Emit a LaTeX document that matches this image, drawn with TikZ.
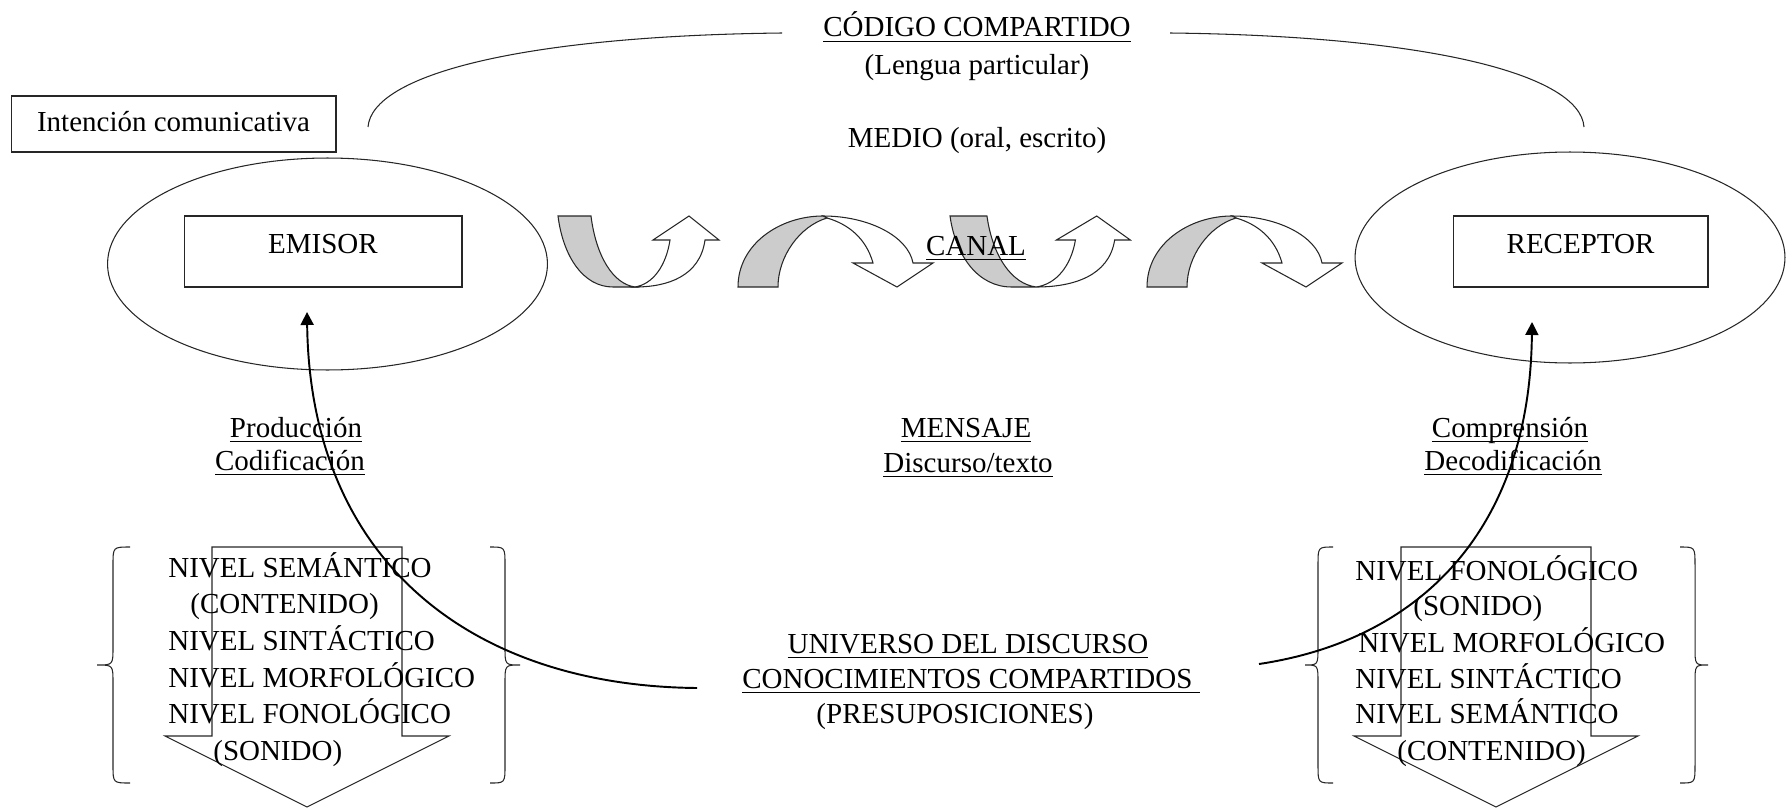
\documentclass[tikz,border=0pt]{standalone}
\usepackage{fontspec}
\setmainfont{Liberation Serif}
\usepackage{tikz}
\usetikzlibrary{shapes,arrows,positioning,calc,arrows.meta}

\newcommand{\subrayado}[1]{\setbox0\hbox{#1}\rlap{\rule[-2.9pt]{\wd0}{0.7pt}}\box0}

\tikzset{
    banda/.style={draw=black!85, line width=0.6pt},
    caja/.style={banda, inner sep=0pt, font=\fontsize{16.5}{20}\selectfont},
    texto/.style={inner sep=0pt, anchor=base, font=\fontsize{16.5}{20}\selectfont},
    nivel/.style={texto, anchor=base west},
    flecha/.style={line width=1.1pt, -{Triangle[length=0.26cm, width=0.26cm]}},
}

\begin{document}
\begin{tikzpicture}[x=0.02cm, y=-0.02cm]
    \useasboundingbox (0,0) rectangle (1787,811);

    % Emisor and Receptor
    \node[banda, ellipse, minimum width=8.8cm, minimum height=4.24cm] (elipseE) at (327.5,264) {};
    \node[banda, ellipse, minimum width=8.6cm, minimum height=4.22cm] (elipseR) at (1570,257.5) {};
    \node[caja, minimum width=5.56cm, text height=0.74cm, text depth=0.68cm, anchor=base] (emisor) at (323,253) {EMISOR};
    \node[caja, minimum width=5.1cm, text height=0.74cm, text depth=0.68cm, anchor=base] (receptor) at (1580.5,253) {RECEPTOR};
    \node[caja, minimum width=6.5cm, text height=0.72cm, text depth=0.4cm, anchor=base] (intencion) at (173.5,132) {Intención comunicativa};

    % Code arc
    \node[texto] (codigo) at (977,37) {\subrayado{CÓDIGO COMPARTIDO}};
    \node[texto] (lengua) at (977,74) {(Lengua particular)};
    \node[texto] (medio) at (977,147) {MEDIO (oral, escrito)};
    \draw[banda] (368,127) .. controls (372,75) and (520,36) .. (782,33);
    \draw[banda] (1170,33) .. controls (1432,36) and (1580,75) .. (1584,127);

    % Channel arrows (up)
    \foreach \ox/\sx in {558/1, 950/1.12} {
        \begin{scope}[shift={(\ox,216)}, xscale=\sx]
            \draw[banda, fill=black!20] (0,0) -- (33,0) .. controls (38,40) and (55,68) .. (77,71) -- (55,71) .. controls (25,71) and (5,40) .. (0,0) -- cycle;
            \draw[banda, fill=white] (77,71) .. controls (95,68) and (108,50) .. (112,24) -- (95,24) -- (131,0) -- (161,24) -- (147,24) .. controls (142,60) and (110,71) .. (77,71) -- cycle;
        \end{scope}
    }
    % Channel arrows (down)
    \foreach \ox in {738, 1147} {
        \begin{scope}[shift={(\ox,216)}]
            \draw[banda, fill=white] (85,0) .. controls (130,0) and (170,20) .. (175,47) -- (195,47) -- (159,71) -- (115,47) -- (135,47) .. controls (128,22) and (110,8) .. (89,2) -- cycle;
            \draw[banda, fill=black!20] (0,71) .. controls (0,28) and (42,0) .. (85,0) -- (89,2) .. controls (62,10) and (40,40) .. (40,71) -- cycle;
        \end{scope}
    }
    \node[texto] (canal) at (976,255) {\subrayado{CANAL}};

    % Middle labels
    \node[texto] (produccion) at (296,437) {\subrayado{Producción}};
    \node[texto] (codificacion) at (290,470) {\subrayado{Codificación}};
    \node[texto] (mensaje) at (966,437) {\subrayado{MENSAJE}};
    \node[texto] (discurso) at (968,472) {\subrayado{Discurso/texto}};
    \node[texto] (comprension) at (1510,437) {\subrayado{Comprensión}};
    \node[texto] (decodificacion) at (1513,470) {\subrayado{Decodificación}};

    % Universe of discourse
    \node[texto] (universo) at (968,653) {\subrayado{UNIVERSO DEL DISCURSO}};
    \node[texto] (conocimientos) at (971,688) {\subrayado{CONOCIMIENTOS COMPARTIDOS\ }};
    \node[texto] (presuposiciones) at (955,723) {(PRESUPOSICIONES)};

    % Level arrows and braces
    \foreach \c in {307, 1496} {
        \draw[banda] (\c-95,547) -- (\c+95,547) -- (\c+95,736) -- (\c+142,736) -- (\c,807) -- (\c-142,736) -- (\c-95,736) -- cycle;
    }
    \foreach \xe/\xv/\xt in {130/113/97, 490/505/520, 1333/1318/1305, 1680/1695/1708} {
        \draw[banda] (\xe,547) .. controls (\xv,547) and (\xv,547) .. (\xv,565) -- (\xv,647) .. controls (\xv,665) and (\xv,665) .. (\xt,665) .. controls (\xv,665) and (\xv,665) .. (\xv,683) -- (\xv,765) .. controls (\xv,783) and (\xv,783) .. (\xe,783);
    }
    \foreach \x/\y/\t [count=\i] in {168/577/NIVEL SEMÁNTICO, 190/613/(CONTENIDO), 168/650/NIVEL SINTÁCTICO, 168/687/NIVEL MORFOLÓGICO, 168/723/NIVEL FONOLÓGICO, 213/760/(SONIDO)} {
        \node[nivel] (ne\i) at (\x,\y) {\t};
    }
    \foreach \x/\y/\t [count=\i] in {1355/580/NIVEL FONOLÓGICO, 1413/615/(SONIDO), 1358/652/NIVEL MORFOLÓGICO, 1355/688/NIVEL SINTÁCTICO, 1355/723/NIVEL SEMÁNTICO, 1397/760/(CONTENIDO)} {
        \node[nivel] (nr\i) at (\x,\y) {\t};
    }

    % Production and comprehension
    \coordinate (inicioE) at (697,688);
    \coordinate (puntaE) at (307,312);
    \coordinate (inicioR) at (1259,664);
    \coordinate (puntaR) at (1532,322);
    \draw[flecha] (inicioE) .. controls (470,686) and (310,560) .. (puntaE);
    \draw[flecha] (inicioR) .. controls (1420,640) and (1530,530) .. (puntaR);
\end{tikzpicture}
\end{document}
